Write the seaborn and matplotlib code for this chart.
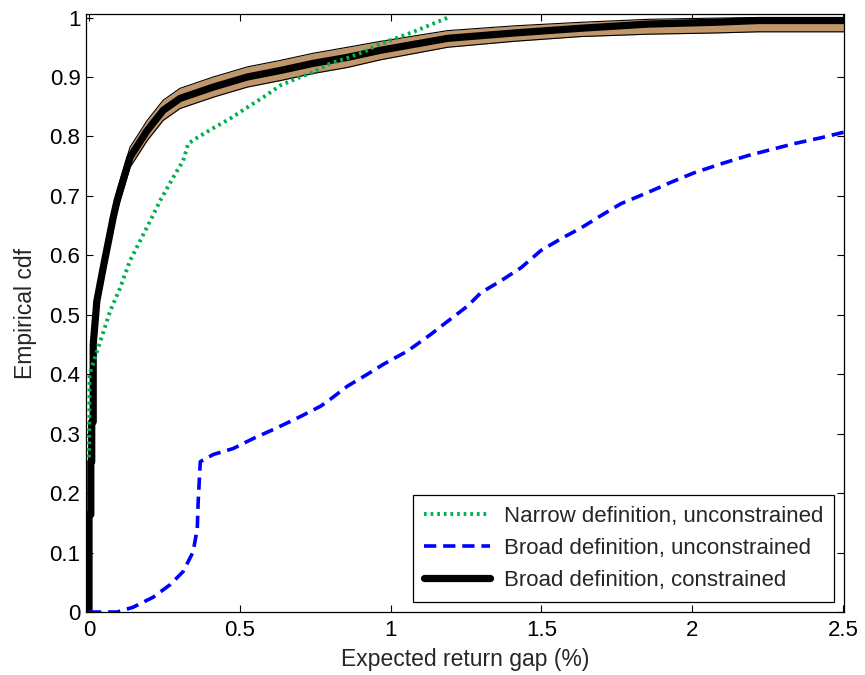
import numpy as np
import pandas as pd
import matplotlib.pyplot as plt
import seaborn as sns

# Narrow definition, unconstrained (green dotted)
narrow_x = [0, 0.002, 0.027, 0.07, 0.103, 0.136, 0.169, 0.203, 0.236, 0.279, 0.312, 0.329,
            0.359, 0.412, 0.468, 0.525, 0.578, 0.635, 0.691, 0.744, 0.801, 0.857, 0.91,
            0.957, 1.076, 1.19]
narrow_y = [0.26, 0.40, 0.439, 0.506, 0.545, 0.591, 0.624, 0.658, 0.692, 0.731, 0.759, 0.788,
            0.798, 0.814, 0.830, 0.849, 0.866, 0.886, 0.898, 0.908, 0.923, 0.932, 0.942,
            0.954, 0.976, 1.0]

# Broad definition, unconstrained (blue dashed)
broad_x = [0, 0.093, 0.146, 0.213, 0.269, 0.312, 0.345, 0.359, 0.362, 0.369, 0.412, 0.478,
           0.545, 0.611, 0.69, 0.767, 0.79, 0.857, 0.923, 0.977, 1.056, 1.133, 1.189, 1.256,
           1.299, 1.365, 1.432, 1.498, 1.565, 1.631, 1.698, 1.764, 1.854, 1.93, 2.007,
           2.096, 2.186, 2.262, 2.339, 2.429, 2.51]
broad_y = [0, 0, 0.008, 0.025, 0.046, 0.068, 0.101, 0.14, 0.186, 0.253, 0.265, 0.275,
           0.292, 0.307, 0.326, 0.346, 0.354, 0.38, 0.40, 0.417, 0.439, 0.467, 0.489, 0.515,
           0.537, 0.557, 0.579, 0.608, 0.628, 0.646, 0.667, 0.687, 0.706, 0.723, 0.739,
           0.754, 0.768, 0.778, 0.788, 0.798, 0.808]

# Broad definition, constrained (black) with its band
constr_x = [0, 0, 0.006, 0.006, 0.009, 0.009, 0.014, 0.014, 0.026, 0.047, 0.08, 0.093, 0.136,
            0.193, 0.246, 0.302, 0.412, 0.525, 0.635, 0.744, 0.857, 0.967, 1.189, 1.409,
            1.631, 1.854, 2.073, 2.219, 2.52]
constr_y = [0, 0.164, 0.164, 0.253, 0.253, 0.32, 0.32, 0.45, 0.523, 0.579, 0.663, 0.692, 0.765,
            0.81, 0.844, 0.864, 0.883, 0.90, 0.911, 0.923, 0.933, 0.945, 0.965, 0.974,
            0.982, 0.989, 0.992, 0.995, 0.995]
band_lo = [0, 0.147, 0.147, 0.236, 0.236, 0.303, 0.303, 0.433, 0.506, 0.562, 0.646, 0.675, 0.748,
           0.793, 0.827, 0.847, 0.866, 0.883, 0.894, 0.906, 0.916, 0.929, 0.950, 0.960,
           0.968, 0.972, 0.974, 0.976, 0.976]
band_hi = [0, 0.181, 0.181, 0.270, 0.270, 0.337, 0.337, 0.467, 0.540, 0.596, 0.680, 0.709, 0.782,
           0.827, 0.861, 0.881, 0.900, 0.917, 0.928, 0.940, 0.950, 0.960, 0.978, 0.986,
           0.992, 0.997, 0.999, 1.0, 1.0]

labels = ['Narrow definition, unconstrained', 'Broad definition, unconstrained',
          'Broad definition, constrained']

sns.set_style('ticks')
plt.rcParams['font.family'] = ['Liberation Sans', 'DejaVu Sans']

fig = plt.figure(figsize=(8.65, 6.75), dpi=100)
ax = fig.add_axes([0.0994, 0.0933, 0.8763, 0.886])

df_n = pd.DataFrame({'x': narrow_x, 'y': narrow_y})
df_b = pd.DataFrame({'x': broad_x, 'y': broad_y})
df_c = pd.DataFrame({'x': constr_x, 'y': constr_y})

# confidence band of the constrained curve
ax.fill_between(constr_x, band_lo, band_hi, color='#C0966B', lw=0, zorder=1)
ax.plot(constr_x, band_lo, color='black', lw=0.8, zorder=1.5)
ax.plot(constr_x, band_hi, color='black', lw=0.8, zorder=1.5)

sns.lineplot(data=df_n, x='x', y='y', ax=ax, sort=False, estimator=None, color='#00B050',
             lw=2.8, label=labels[0], zorder=3)
sns.lineplot(data=df_b, x='x', y='y', ax=ax, sort=False, estimator=None, color='#0000FF',
             lw=2.6, label=labels[1], zorder=3)
sns.lineplot(data=df_c, x='x', y='y', ax=ax, sort=False, estimator=None, color='black',
             lw=5.2, label=labels[2], zorder=2)

ax.lines[-3].set_dashes([0.7, 1.0])
ax.lines[-3].set_dash_capstyle('butt')
ax.lines[-2].set_dashes([3.4, 1.9])

ax.set_xlim(-0.01, 2.503)
ax.set_ylim(0, 1.006)
ax.set_xticks([0, 0.5, 1, 1.5, 2, 2.5])
ax.set_xticklabels(['0', '0.5', '1', '1.5', '2', '2.5'])
ax.set_yticks(np.round(np.arange(0, 1.01, 0.1), 1))
ax.set_yticklabels(['0', '0.1', '0.2', '0.3', '0.4', '0.5', '0.6', '0.7', '0.8', '0.9', '1'])
ax.tick_params(direction='in', length=5, width=0.8, top=True, right=True, labelsize=16,
               colors='black')
ax.tick_params(axis='x', pad=6)
ax.tick_params(axis='y', pad=4)
for s in ax.spines.values():
    s.set_visible(True)
    s.set_color('black')
    s.set_linewidth(0.9)

ax.set_xlabel('Expected return gap (%)', fontsize=16.5, labelpad=5)
ax.set_ylabel('Empirical cdf', fontsize=16.5, labelpad=9)

leg = ax.legend(loc='lower right', bbox_to_anchor=(0.987, 0.0167), fontsize=16,
                frameon=True, fancybox=False, edgecolor='black', framealpha=1,
                handlelength=3.0, borderpad=0.5, labelspacing=0.5, handletextpad=0.6,
                borderaxespad=0)
leg.get_frame().set_linewidth(0.9)

fig.savefig('out.png', dpi=100)
